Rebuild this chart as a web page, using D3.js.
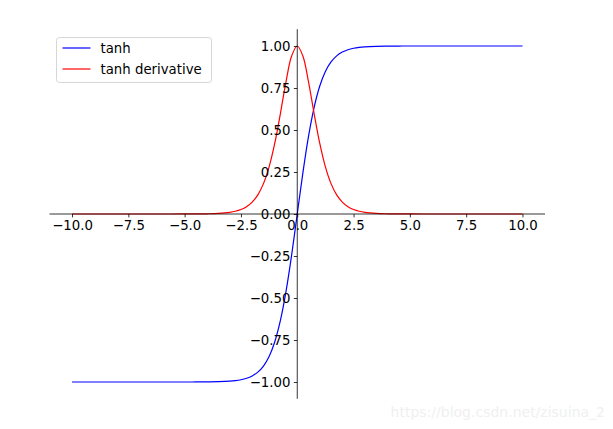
<!DOCTYPE html>
<html><head><meta charset="utf-8">
<script src="https://cdn.jsdelivr.net/npm/d3@7"></script>
<style>body{margin:0;background:#fff}svg{display:block}text{font-family:"DejaVu Sans",sans-serif}</style>
</head><body><svg id="c" width="613" height="429"></svg>
<script>
const xs = [-10,-9,-8,-7,-6,-5,-4.5,-4,-3.5,-3,-2.75,-2.5,-2.25,-2,-1.75,-1.5,-1.25,-1,-0.75,-0.5,-0.25,0,0.25,0.5,0.75,1,1.25,1.5,1.75,2,2.25,2.5,2.75,3,3.5,4,4.5,5,6,7,8,9,10];
const tanhVals = [-1,-1,-1,-1,-1,-0.9999,-0.9998,-0.9993,-0.9982,-0.9951,-0.9919,-0.9866,-0.9780,-0.9640,-0.9414,-0.9051,-0.8483,-0.7616,-0.6351,-0.4621,-0.2449,0,0.2449,0.4621,0.6351,0.7616,0.8483,0.9051,0.9414,0.9640,0.9780,0.9866,0.9919,0.9951,0.9982,0.9993,0.9998,0.9999,1,1,1,1,1];
const derivVals = [0,0,0,0,0,0.0002,0.0005,0.0013,0.0036,0.0099,0.0162,0.0266,0.0436,0.0707,0.1137,0.1807,0.2805,0.4200,0.5966,0.7864,0.9400,1,0.9400,0.7864,0.5966,0.4200,0.2805,0.1807,0.1137,0.0707,0.0436,0.0266,0.0162,0.0099,0.0036,0.0013,0.0005,0.0002,0,0,0,0,0];
const xTicks = [-10,-7.5,-5,-2.5,0,2.5,5,7.5,10];
const yTicks = [-1,-0.75,-0.5,-0.25,0,0.25,0.5,0.75,1];
const seriesNames = ["tanh","tanh derivative"];
const seriesColors = ["#0000ff","#ff0000"];

const svg = d3.select("#c");
const x = d3.scaleLinear().domain([-11,11]).range([49.5,545]);
const y = d3.scaleLinear().domain([-1.1,1.1]).range([398.8,29.2]);

const line = d3.line().x((d,i)=>x(xs[i])).y(d=>y(d)).curve(d3.curveCatmullRom);
[tanhVals,derivVals].forEach((vals,k)=>{
  svg.append("path").attr("d",line(vals)).attr("fill","none").attr("stroke",seriesColors[k]).attr("stroke-width",1.2);
});

const xAxis = d3.axisBottom(x).tickValues(xTicks).tickSize(3.4).tickPadding(3.4)
  .tickFormat(d=>(d<0?"\u2212":"")+Math.abs(d).toFixed(1));
const gx = svg.append("g").attr("transform",`translate(0,${y(0)})`).call(xAxis);
const yAxis = d3.axisLeft(y).tickValues(yTicks).tickSize(3.4).tickPadding(3.4)
  .tickFormat(d=>(d<0?"\u2212":"")+Math.abs(d).toFixed(2));
const gy = svg.append("g").attr("transform",`translate(${x(0)},0)`).call(yAxis);
[gx,gy].forEach(g=>{
  g.select(".domain").remove();
  g.selectAll("text").attr("font-size","13.3px").attr("fill","#000").attr("font-family","DejaVu Sans");
  g.selectAll("line").attr("stroke","#000").attr("stroke-width",0.8);
});
svg.append("line").attr("x1",x(-11)).attr("x2",x(11)).attr("y1",y(0)).attr("y2",y(0)).attr("stroke","#000").attr("stroke-width",0.8);
svg.append("line").attr("x1",x(0)).attr("x2",x(0)).attr("y1",y(1.1)).attr("y2",y(-1.1)).attr("stroke","#000").attr("stroke-width",0.8);

// legend
const lg = svg.append("g").attr("transform","translate(56.5,37.5)");
lg.append("rect").attr("width",155).attr("height",45).attr("rx",3).attr("fill","#fff").attr("fill-opacity",0.8).attr("stroke","#cccccc").attr("stroke-width",0.8);
seriesNames.forEach((n,i)=>{
  const yy = 10.5 + i*21;
  lg.append("line").attr("x1",6).attr("x2",34).attr("y1",yy).attr("y2",yy).attr("stroke",seriesColors[i]).attr("stroke-width",1.2);
  lg.append("text").attr("x",44).attr("y",yy).attr("dy","0.35em").attr("font-size","13.3px").text(n);
});

// watermark
svg.append("text").attr("x",605).attr("y",417).attr("text-anchor","end")
  .attr("font-family","Liberation Sans, Arial, sans-serif").attr("font-size","14px").attr("fill","#f0f0f0")
  .text("https://blog.csdn.net/zisuina_2");
</script></body></html>
